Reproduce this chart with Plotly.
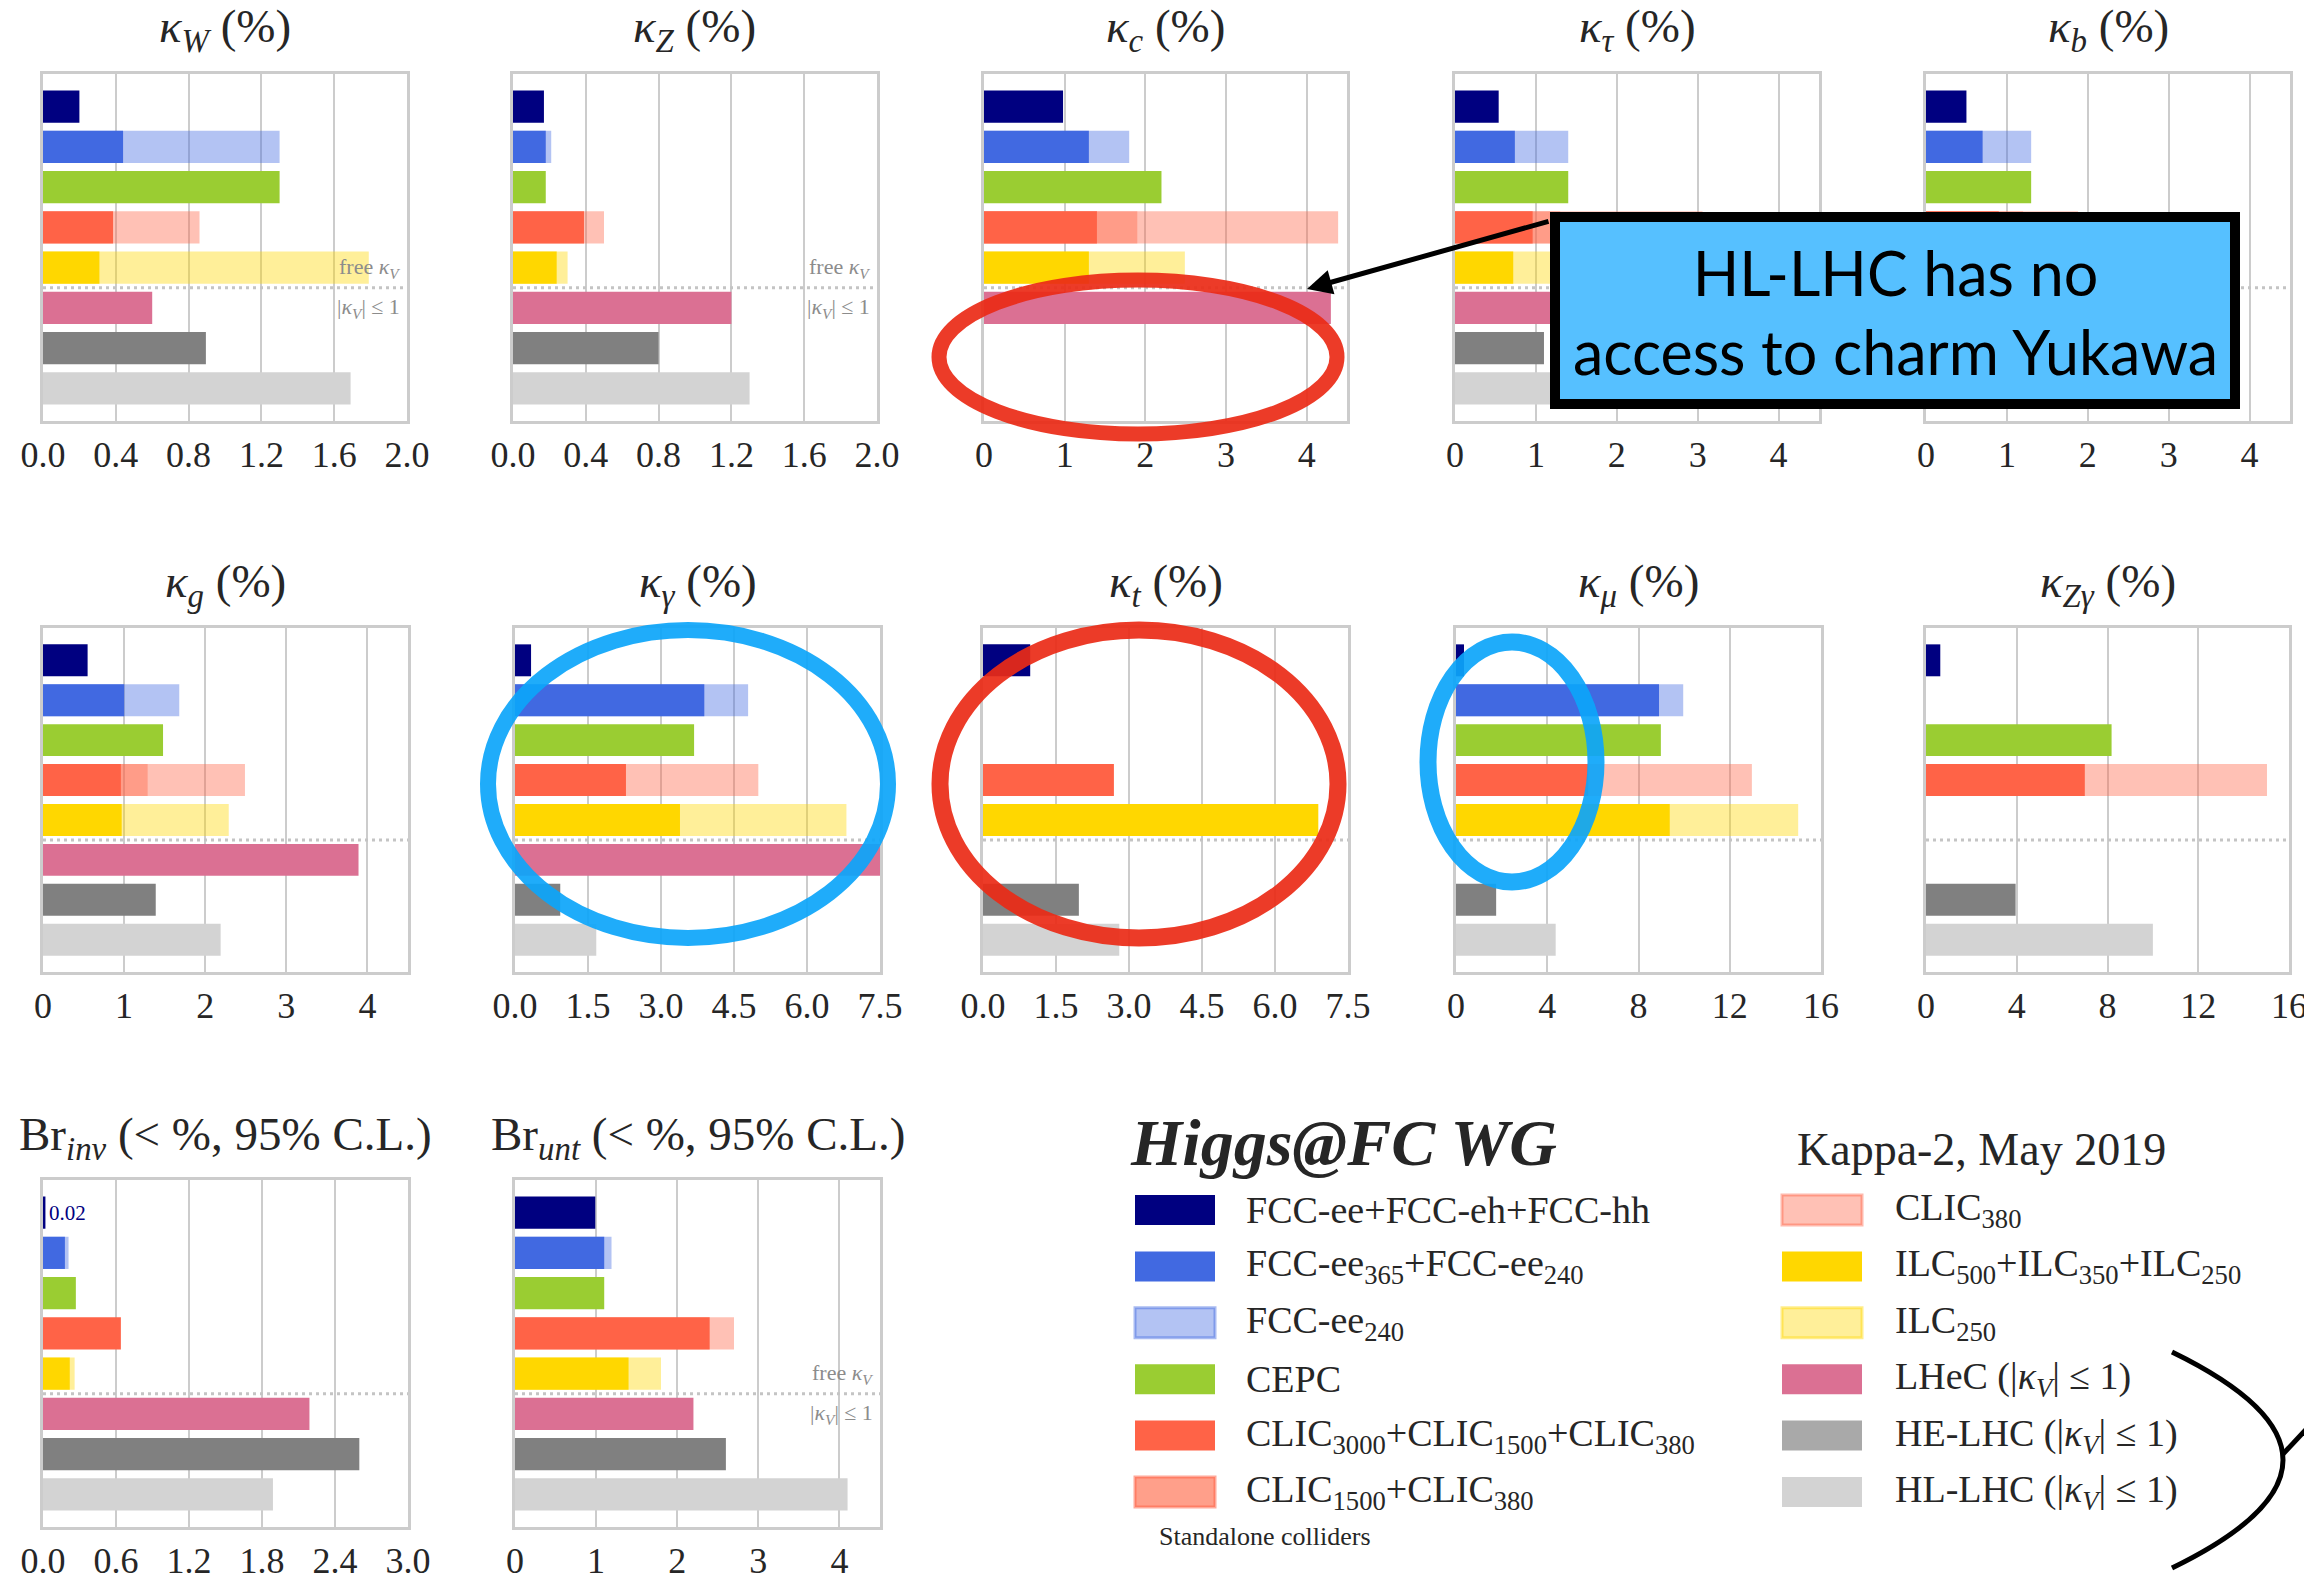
import plotly.graph_objects as go

W, H = 2312, 1574
PAGE_OFFSET = 8  # the browser page places the figure 8px from the top-left corner
SERIF = "Liberation Serif, Times New Roman, serif"
SANS = "Lato, Open Sans, sans-serif"
TXT = "#262626"

# ---------------- data ----------------
ROW_LABELS = ["FCC-ee+FCC-eh+FCC-hh", "FCC-ee365+FCC-ee240", "CEPC",
              "CLIC3000+CLIC1500+CLIC380", "ILC500+ILC350+ILC250",
              "LHeC", "HE-LHC", "HL-LHC"]
ROW_POS = [0, 1, 2, 3, 4, 5, 6, 7]
ROW_COLORS = ["#000080", "#4169E1", "#9ACD32", "#FF6347", "#FFD700",
              "#DB7093", "#808080", "#D3D3D3"]

PANEL_TITLES = [
    "<i>κ<sub>W</sub></i> (%)", "<i>κ<sub>Z</sub></i> (%)", "<i>κ<sub>c</sub></i> (%)",
    "<i>κ<sub>τ</sub></i> (%)", "<i>κ<sub>b</sub></i> (%)",
    "<i>κ<sub>g</sub></i> (%)", "<i>κ<sub>γ</sub></i> (%)", "<i>κ<sub>t</sub></i> (%)",
    "<i>κ<sub>μ</sub></i> (%)", "<i>κ<sub>Zγ</sub></i> (%)",
    "Br<sub><i>inv</i></sub> (&lt; %, 95% C.L.)", "Br<sub><i>unt</i></sub> (&lt; %, 95% C.L.)"]

# main (combined) values per panel, one per row (None = not available)
KAPPA_W = [0.20, 0.44, 1.30, 0.385, 0.31, 0.60, 0.895, 1.69]
KAPPA_Z = [0.17, 0.18, 0.18, 0.39, 0.24, 1.20, 0.80, 1.30]
KAPPA_C = [0.98, 1.30, 2.20, 1.40, 1.30, 4.30, None, None]
KAPPA_TAU = [0.54, 0.74, 1.40, 0.96, 0.72, 1.90, 1.10, 1.90]
KAPPA_B = [0.50, 0.70, 1.30, 0.90, 0.70, 0.80, 1.10, 3.60]
KAPPA_G = [0.55, 1.00, 1.48, 0.96, 0.97, 3.89, 1.39, 2.19]
KAPPA_GAMMA = [0.33, 3.89, 3.68, 2.28, 3.39, 7.50, 0.93, 1.67]
KAPPA_T = [0.97, None, None, 2.69, 6.89, None, 1.97, 2.80]
KAPPA_MU = [0.35, 8.90, 8.98, 5.80, 9.37, None, 1.76, 4.37]
KAPPA_ZGAMMA = [0.63, None, 8.18, 7.00, None, None, 3.95, 10.0]
BR_INV = [0.02, 0.18, 0.27, 0.64, 0.22, 2.19, 2.60, 1.89]
BR_UNT = [0.99, 1.10, 1.10, 2.40, 1.40, 2.20, 2.60, 4.10]
MAIN_VALUES = [KAPPA_W, KAPPA_Z, KAPPA_C, KAPPA_TAU, KAPPA_B, KAPPA_G, KAPPA_GAMMA,
               KAPPA_T, KAPPA_MU, KAPPA_ZGAMMA, BR_INV, BR_UNT]

# standalone (lighter) values per panel
FCCEE240 = [1.30, 0.21, 1.80, 1.40, 1.30, 1.68, 4.79, None, 9.96, None, 0.21, 1.19]
CLIC1500_380 = [None, None, 1.90, 1.30, 1.20, 1.29, None, None, None, None, None, None]
CLIC380 = [0.86, 0.50, 4.39, 3.06, 1.88, 2.49, 5.00, None, 12.97, 15.03, None, 2.70]
ILC250 = [1.79, 0.30, 2.49, 1.90, 1.80, 2.29, 6.81, None, 15.0, None, 0.26, 1.80]

X_MAX = [2.0, 2.0, 4.5, 4.5, 4.5, 4.5, 7.5, 7.5, 16, 16, 3.0, 4.5]
X_DTICK = [0.4, 0.4, 1, 1, 1, 1, 1.5, 1.5, 4, 4, 0.6, 1]
X_FMT = [".1f", ".1f", "d", "d", "d", "d", ".1f", ".1f", "d", "d", ".1f", "d"]
FREE_KV_PANELS = [0, 1, 11]

LEGEND_LEFT = ["FCC-ee+FCC-eh+FCC-hh",
               "FCC-ee<sub>365</sub>+FCC-ee<sub>240</sub>",
               "FCC-ee<sub>240</sub>",
               "CEPC",
               "CLIC<sub>3000</sub>+CLIC<sub>1500</sub>+CLIC<sub>380</sub>",
               "CLIC<sub>1500</sub>+CLIC<sub>380</sub>"]
LEGEND_RIGHT = ["CLIC<sub>380</sub>",
                "ILC<sub>500</sub>+ILC<sub>350</sub>+ILC<sub>250</sub>",
                "ILC<sub>250</sub>",
                "LHeC (|<i>κ<sub>V</sub></i>| ≤ 1)",
                "HE-LHC (|<i>κ<sub>V</sub></i>| ≤ 1)",
                "HL-LHC (|<i>κ<sub>V</sub></i>| ≤ 1)"]
LEGEND_LEFT_FILL = ["#000080", "#4169E1", "#B3C3F3", "#9ACD32", "#FF6347", "#FF9F8A"]
LEGEND_LEFT_EDGE = [None, None, "rgba(65,105,225,0.45)", None, None, "rgba(255,99,71,0.55)"]
LEGEND_RIGHT_FILL = ["#FFC1B5", "#FFD700", "#FFEF99", "#DB7093", "#A9A9A9", "#D3D3D3"]
LEGEND_RIGHT_EDGE = ["rgba(255,99,71,0.45)", None, "rgba(255,215,0,0.45)", None, None, None]

# ---------------- layout geometry (screen pixels) ----------------
COLS_X = [[(43, 407), (513, 877), (984, 1347), (1455, 1819), (1926, 2290)],
          [(43, 408), (515, 880), (983, 1348), (1456, 1821), (1926, 2289)],
          [(43, 408), (515, 880)]]
ROWS_Y = [(74, 421), (628, 972), (1180, 1527)]
TITLE_Y = [30, 585, 1137]


def px(x):
    return (x - PAGE_OFFSET) / W


def py(y):
    return 1 - (y - PAGE_OFFSET) / H


fig = go.Figure()
layout = dict(width=W, height=H,
              margin=dict(l=0, r=0, t=0, b=0, pad=0, autoexpand=False),
              paper_bgcolor="white", plot_bgcolor="white", barmode="overlay",
              showlegend=False, font=dict(family=SERIF, color=TXT))
annotations = []
shapes = []

LIGHT_LAYERS = [(FCCEE240, 1, "rgba(65,105,225,0.4)"),
                (CLIC380, 3, "rgba(255,99,71,0.4)"),
                (CLIC1500_380, 3, "rgba(255,99,71,0.4)"),
                (ILC250, 4, "rgba(255,215,0,0.4)")]

for i in range(12):
    r = 0 if i < 5 else (1 if i < 10 else 2)
    c = i if i < 5 else (i - 5 if i < 10 else i - 10)
    n = i + 1
    xa = "x" if n == 1 else f"x{n}"
    ya = "y" if n == 1 else f"y{n}"
    sfx = "" if n == 1 else str(n)
    x0, x1 = COLS_X[r][c]
    y0, y1 = ROWS_Y[r]
    layout[f"xaxis{sfx}"] = dict(
        domain=[px(x0), px(x1)], anchor=ya, range=[0, X_MAX[i]], tick0=0,
        dtick=X_DTICK[i], tickformat=X_FMT[i], showgrid=True, gridcolor="#cccccc",
        gridwidth=2, zeroline=False, showline=True, mirror=True, linecolor="#cccccc",
        linewidth=3, ticks="", automargin=False,
        tickfont=dict(family=SERIF, size=36, color=TXT), fixedrange=True)
    layout[f"yaxis{sfx}"] = dict(
        domain=[py(y1), py(y0)], anchor=xa, range=[7.81, -0.81], showgrid=False,
        zeroline=False, showticklabels=False, showline=True, mirror=True,
        linecolor="#cccccc", linewidth=3, automargin=False, fixedrange=True)

    # lighter standalone bars first
    for vals, row, col in LIGHT_LAYERS:
        v = vals[i]
        if v is not None:
            fig.add_trace(go.Bar(x=[v], y=[row], base=0, orientation="h", width=0.8,
                                 marker=dict(color=col, line=dict(width=0)),
                                 xaxis=xa, yaxis=ya, hoverinfo="skip"))
    vals = MAIN_VALUES[i]
    xs = [v for v in vals if v is not None]
    ys = [p for v, p in zip(vals, ROW_POS) if v is not None]
    cs = [cl for v, cl in zip(vals, ROW_COLORS) if v is not None]
    fig.add_trace(go.Bar(x=xs, y=ys, base=0, orientation="h", width=0.8,
                         marker=dict(color=cs, line=dict(width=0)),
                         xaxis=xa, yaxis=ya, hoverinfo="skip"))

    # dotted separator between free-kV and |kV|<=1 results
    shapes.append(dict(type="line", xref=f"{xa} domain", yref=ya, x0=0, x1=1,
                       y0=4.5, y1=4.5, line=dict(color="#c4c4c4", width=3, dash="3px,4px")))
    # panel title
    annotations.append(dict(text=PANEL_TITLES[i], xref="paper", yref="paper",
                            x=px((x0 + x1) / 2), y=py(TITLE_Y[r]), showarrow=False,
                            xanchor="center", yanchor="middle",
                            font=dict(family=SERIF, size=47, color=TXT)))
    if i in FREE_KV_PANELS:
        annotations.append(dict(text="free <i>κ<sub>V</sub></i>", xref=f"{xa} domain", yref=ya,
                                x=0.985, y=4.0, showarrow=False, xanchor="right",
                                yanchor="middle", font=dict(family=SERIF, size=22, color="#8c8c8c")))
        annotations.append(dict(text="|<i>κ<sub>V</sub></i>| ≤ 1", xref=f"{xa} domain", yref=ya,
                                x=0.985, y=5.0, showarrow=False, xanchor="right",
                                yanchor="middle", font=dict(family=SERIF, size=22, color="#8c8c8c")))

# value label for the tiny Br_inv bar
annotations.append(dict(text=f"{BR_INV[0]:.2f}", xref="x11", yref="y11", x=0.03, y=0,
                        showarrow=False, xanchor="left", yanchor="middle",
                        font=dict(family=SERIF, size=21, color="#000080")))

# ---------------- legend (drawn manually, two columns) ----------------
for k in range(6):
    yc = 1210 + 56.4 * k
    for (sx, tx, fills, edges, labels) in [(1135, 1244, LEGEND_LEFT_FILL, LEGEND_LEFT_EDGE, LEGEND_LEFT),
                                           (1782, 1893, LEGEND_RIGHT_FILL, LEGEND_RIGHT_EDGE, LEGEND_RIGHT)]:
        edge = edges[k]
        shapes.append(dict(type="rect", xref="paper", yref="paper",
                           x0=px(sx), x1=px(sx + 80), y0=py(yc + 15), y1=py(yc - 15),
                           fillcolor=fills[k],
                           line=dict(color=edge if edge else fills[k], width=3 if edge else 0)))
        annotations.append(dict(text=labels[k], xref="paper", yref="paper", x=px(tx), y=py(yc),
                                showarrow=False, xanchor="left", yanchor="middle",
                                font=dict(family=SERIF, size=38, color=TXT)))

annotations.append(dict(text="<b><i>Higgs@FC WG</i></b>", xref="paper", yref="paper",
                        x=px(1128), y=py(1142), showarrow=False, xanchor="left", yanchor="middle",
                        font=dict(family=SERIF, size=66, color=TXT)))
annotations.append(dict(text="Kappa-2, May 2019", xref="paper", yref="paper",
                        x=px(1795), y=py(1149), showarrow=False, xanchor="left", yanchor="middle",
                        font=dict(family=SERIF, size=46, color=TXT)))
annotations.append(dict(text="Standalone colliders", xref="paper", yref="paper",
                        x=px(1157), y=py(1536), showarrow=False, xanchor="left", yanchor="middle",
                        font=dict(family=SERIF, size=26, color=TXT)))

# ---------------- hand-drawn highlights ----------------
RED = "rgba(234,42,22,0.92)"
BLUE = "rgba(12,165,250,0.92)"
for (cx, cy, rx, ry, col, lw) in [(1138, 357, 199, 77, RED, 15),
                                  (688, 784, 200, 154, BLUE, 16),
                                  (1139, 784, 199, 154, RED, 17),
                                  (1512, 762, 84, 120, BLUE, 17)]:
    shapes.append(dict(type="circle", xref="paper", yref="paper",
                       x0=px(cx - rx), x1=px(cx + rx), y0=py(cy + ry), y1=py(cy - ry),
                       line=dict(color=col, width=lw), fillcolor="rgba(0,0,0,0)", layer="above"))

# callout box
shapes.append(dict(type="rect", xref="paper", yref="paper", x0=px(1555), x1=px(2235),
                   y0=py(404), y1=py(217), fillcolor="#56C0FF",
                   line=dict(color="black", width=10), layer="above"))
annotations.append(dict(text="HL-LHC has no<br>access to charm Yukawa", xref="paper", yref="paper",
                        x=px(1895), y=py(312), showarrow=False, xanchor="center", yanchor="middle",
                        font=dict(family=SANS, size=61, color="black")))
annotations.append(dict(text="", xref="paper", yref="paper", x=px(1307), y=py(289),
                        ax=243, ay=-68, axref="pixel", ayref="pixel", showarrow=True,
                        arrowhead=2, arrowsize=1, arrowwidth=5, arrowcolor="black", standoff=0))

# bracket at bottom right
shapes.append(dict(type="path", xref="paper", yref="paper",
                   path=f"M {px(2172)},{py(1352)} Q {px(2394)},{py(1460)} {px(2172)},{py(1568)}",
                   line=dict(color="black", width=5), layer="above"))
shapes.append(dict(type="line", xref="paper", yref="paper", x0=px(2283), y0=py(1454),
                   x1=px(2316), y1=py(1419), line=dict(color="black", width=5), layer="above"))

layout["annotations"] = annotations
layout["shapes"] = shapes
fig.update_layout(**layout)
fig.write_html("out.html")
